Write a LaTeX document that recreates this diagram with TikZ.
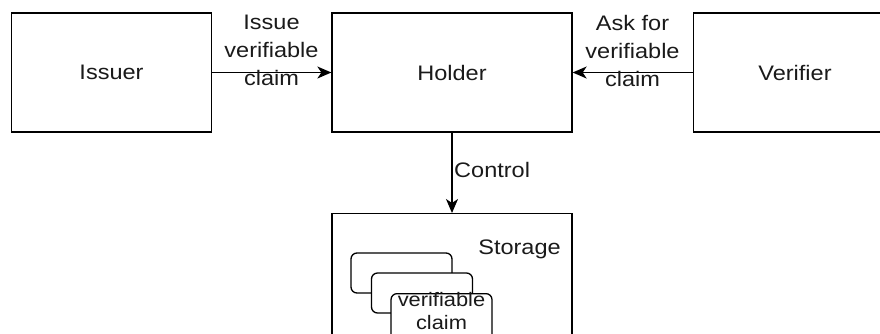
\documentclass[tikz,border=0pt]{standalone}
\usepackage{fontspec}
\setmainfont{Liberation Sans}[FakeStretch=1.12]
\usetikzlibrary{arrows.meta}
\definecolor{ink}{HTML}{1A1A1A}
\begin{document}
\begin{tikzpicture}[x=1pt,y=-1pt,
  box/.style={draw=black,line width=1.3pt,fill=white,minimum width=200pt,minimum height=119pt,inner sep=0pt,
    font=\fontsize{21}{25}\selectfont,text=ink},
  card/.style={draw=black,line width=1.3pt,fill=white,rounded corners=6pt,minimum width=101pt,minimum height=40pt,inner sep=0pt},
  lbl/.style={align=center,inner sep=0pt,font=\fontsize{21}{28}\selectfont,text=ink},
  conn/.style={draw=black,line width=1.3pt,-{Stealth[length=14pt,width=12pt,inset=4pt]}}]
\useasboundingbox (0,0) rectangle (880,333);
\node[box] (issuer) at (111.5,72.5) {Issuer};
\node[box,minimum width=240pt] (holder) at (452,72.5) {Holder};
\node[box,minimum width=204pt,anchor=west] (verifier) at (693,72.5) {};
\node[lbl] (verifiertext) at (795,72.5) {Verifier};
\node[box,minimum width=240pt,minimum height=126pt,anchor=north] (storage) at (452,213) {};
\node[lbl] (storagetext) at (519.5,249) {Storage};
\node[card] (c1) at (401.5,273) {};
\node[card] (c2) at (422,293) {};
\node[card,minimum height=46pt,anchor=north] (c3) at (441.5,293) {};
\node[lbl,font=\fontsize{19.5}{23}\selectfont] (c3text) at (441.5,311.4) {verifiable\\claim};
\draw[conn] (issuer.east) -- (holder.west);
\draw[conn] (verifier.west) -- (holder.east);
\draw[conn] (holder.south) -- (storage.north);
\node[lbl] (l1) at (271.5,50.5) {Issue\\verifiable\\claim};
\node[lbl] (l2) at (632.5,50.5) {Ask for\\verifiable\\claim};
\node[lbl,anchor=west] (l3) at (454,170) {Control};
\end{tikzpicture}
\end{document}
